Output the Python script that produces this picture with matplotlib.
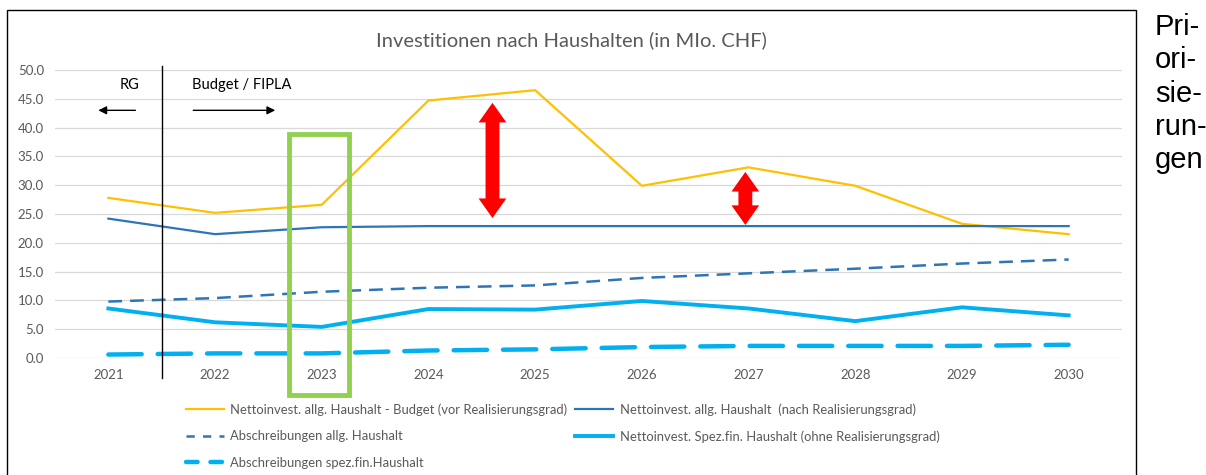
import matplotlib.pyplot as plt
from matplotlib.lines import Line2D
from matplotlib.patches import Rectangle, Polygon

years = ["2021", "2022", "2023", "2024", "2025", "2026", "2027", "2028", "2029", "2030"]
budget_allg = [27.8, 25.2, 26.6, 44.7, 46.5, 29.9, 33.1, 29.9, 23.3, 21.5]
netto_allg = [24.2, 21.5, 22.7, 22.9, 22.9, 22.9, 22.9, 22.9, 22.9, 22.9]
abschr_allg = [9.8, 10.4, 11.5, 12.2, 12.6, 13.9, 14.7, 15.5, 16.4, 17.1]
netto_spez = [8.6, 6.2, 5.4, 8.5, 8.4, 9.9, 8.6, 6.4, 8.8, 7.4]
abschr_spez = [0.6, 0.8, 0.8, 1.3, 1.5, 1.9, 2.1, 2.1, 2.1, 2.3]

labels = {
    "budget": "Nettoinvest. allg. Haushalt - Budget (vor Realisierungsgrad)",
    "netto": "Nettoinvest. allg. Haushalt  (nach Realisierungsgrad)",
    "abschr": "Abschreibungen allg. Haushalt",
    "spez": "Nettoinvest. Spez.fin. Haushalt (ohne Realisierungsgrad)",
    "abschr_spez": "Abschreibungen spez.fin.Haushalt",
}

plt.rcParams['font.family'] = ['Lato', 'DejaVu Sans']
GRAY = '#595959'


def red_double_arrow(ax, x, y0, y1):
    # fat double headed arrow, in data coords
    sw, hw, hl = 0.065, 0.13, 3.4
    pts = [(x, y0), (x + hw, y0 + hl), (x + sw, y0 + hl), (x + sw, y1 - hl),
           (x + hw, y1 - hl), (x, y1), (x - hw, y1 - hl), (x - sw, y1 - hl),
           (x - sw, y0 + hl), (x - hw, y0 + hl)]
    ax.add_patch(Polygon(pts, closed=True, color='#FF0000', lw=0, zorder=5))


def main():
    fig = plt.figure(figsize=(12.06, 4.75), dpi=100)
    ax = fig.add_axes([55 / 1206, 117 / 475, 1067 / 1206, 288 / 475])

    x = range(len(years))
    h_budget, = ax.plot(x, budget_allg, color='#FFC000', lw=1.6, label=labels["budget"])
    h_netto, = ax.plot(x, netto_allg, color='#2E75B6', lw=1.6, label=labels["netto"])
    ax.plot(x, abschr_allg, color='#2E75B6', lw=1.8, ls=(0, (5.5, 3.2)))
    h_spez, = ax.plot(x, netto_spez, color='#00B0F0', lw=2.8, label=labels["spez"])
    ax.plot(x, abschr_spez, color='#00B0F0', lw=3.2, ls=(0, (7.5, 3.6)),
            dash_capstyle='round')

    # legend shows shorter dashes than the plot lines
    h_abschr = Line2D([], [], color='#2E75B6', lw=1.8, ls=(0, (3.3, 3.3)), label=labels["abschr"])
    h_aspez = Line2D([], [], color='#00B0F0', lw=3.2, ls=(0, (2.6, 2.9)),
                     dash_capstyle='round', label=labels["abschr_spez"])

    ax.set_xlim(-0.5, 9.5)
    ax.set_ylim(0, 50)
    ax.set_yticks(range(0, 51, 5))
    ax.set_yticklabels(["%.1f" % v for v in range(0, 51, 5)])
    ax.set_xticks(list(x))
    ax.set_xticklabels(years)
    ax.tick_params(length=0, colors=GRAY, labelsize=9.5, pad=8)
    ax.yaxis.grid(True, color='#D9D9D9', lw=0.9)
    ax.set_axisbelow(True)
    for s in ax.spines.values():
        s.set_visible(False)

    fig.text(571 / 1206, 1 - 40 / 475, "Investitionen nach Haushalten (in MIo. CHF)",
             ha='center', va='center', fontsize=14.5, color=GRAY)

    # RG / Budget marker
    ax.plot([0.5, 0.5], [50.7, -3.5], color='black', lw=1, clip_on=False)
    ax.text(0.2, 47.4, "RG", ha='center', va='center', fontsize=10.5)
    ax.text(1.25, 47.4, "Budget / FIPLA", ha='center', va='center', fontsize=10.5)
    ax.annotate("", xy=(-0.12, 43.0), xytext=(0.28, 43.0),
                arrowprops=dict(arrowstyle='-|>', color='black', lw=1, mutation_scale=12))
    ax.annotate("", xy=(1.59, 43.0), xytext=(0.77, 43.0),
                arrowprops=dict(arrowstyle='-|>', color='black', lw=1, mutation_scale=12))

    # highlight 2023
    ax.add_patch(Rectangle((1.69, -6.4), 0.57, 45.3, fill=False, ec='#92D050', lw=3.5,
                           clip_on=False, zorder=6))

    red_double_arrow(ax, 3.6, 24.3, 44.3)
    red_double_arrow(ax, 5.97, 23.1, 32.3)

    handles = [h_budget, h_abschr, h_aspez, h_netto, h_spez]
    leg = fig.legend(handles, [h.get_label() for h in handles], ncol=2,
                     loc='upper left', bbox_to_anchor=(186 / 1206, 1 - 403 / 475),
                     frameon=False, fontsize=9.4, handlelength=2.9, handletextpad=0.5,
                     columnspacing=0.6, labelspacing=1.13, borderaxespad=0, borderpad=0)
    for t in leg.get_texts():
        t.set_color(GRAY)

    # chart border
    fig.add_artist(Rectangle((7 / 1206, -0.1), 1129 / 1206, 1.1 - 10 / 475, fill=False,
                             ec='black', lw=1, transform=fig.transFigure))

    fig.text(1155 / 1206, 1 - 13 / 475, "Pri-\nori-\nsie-\nrun-\ngen", ha='left', va='top',
             fontsize=21, family='Liberation Sans', linespacing=1.24)

    fig.savefig("out.png", dpi=100)


if __name__ == "__main__":
    main()
